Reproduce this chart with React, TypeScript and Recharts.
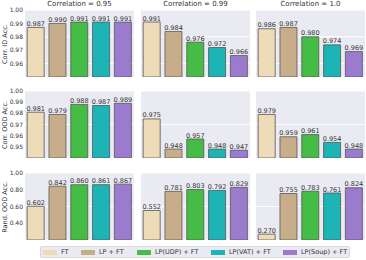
import { BarChart, Bar, XAxis, YAxis, CartesianGrid, Cell, LabelList } from "recharts";

const methods = ["FT", "LP + FT", "LP(UDP) + FT", "LP(VAT) + FT", "LP(Soup) + FT"];
const methodColors = ["#EEDBB8", "#C8AD8A", "#45BC46", "#1CB4B4", "#9A7BCE"];
const correlations = ["0.95", "0.99", "1.0"];
const rowLabels = ["Corr. ID Acc.", "Corr. OOD Acc.", "Rand. OOD Acc."];

// Corr. ID accuracy per correlation
const corrId095 = [0.987, 0.99, 0.991, 0.991, 0.991];
const corrId099 = [0.991, 0.984, 0.976, 0.972, 0.966];
const corrId10 = [0.986, 0.987, 0.98, 0.974, 0.969];

// Corr. OOD accuracy
const corrOod095 = [0.981, 0.979, 0.988, 0.987, 0.989];
const corrOod099 = [0.975, 0.948, 0.957, 0.948, 0.947];
const corrOod10 = [0.979, 0.959, 0.961, 0.954, 0.948];

// Rand. OOD accuracy
const randOod095 = [0.602, 0.842, 0.86, 0.861, 0.867];
const randOod099 = [0.552, 0.781, 0.803, 0.792, 0.829];
const randOod10 = [0.27, 0.755, 0.783, 0.761, 0.824];

const idTicks = [0.95, 0.96, 0.97, 0.98, 0.99, 1.0];
const oodTicks = [0.94, 0.95, 0.96, 0.97, 0.98, 0.99, 1.0];
const randTicks = [0.2, 0.4, 0.6, 0.8, 1.0];

const rows = [
    { label: rowLabels[0], ticks: idTicks, panels: [corrId095, corrId099, corrId10] },
    { label: rowLabels[1], ticks: oodTicks, panels: [corrOod095, corrOod099, corrOod10] },
    { label: rowLabels[2], ticks: randTicks, panels: [randOod095, randOod099, randOod10] },
];

const colLeft = [25, 141, 256];
const rowTop = [10, 91, 173];
const plotW = 109;
const plotH = 67;
const yAxisW = 24;
const topPad = 10;
const textColor = "#333";
const legendX = [43, 81, 137, 211, 283];

function ValueLabel(props: any) {
    const { x, y, width, value } = props;
    return (
        <text
            x={Number(x) + Number(width) / 2}
            y={Number(y) - 1.5}
            textAnchor="middle"
            fontSize={6.5}
            fill={textColor}
        >
            {Number(value).toFixed(3)}
        </text>
    );
}

interface PanelProps {
    values: number[];
    ticks: number[];
    showY: boolean;
    left: number;
    top: number;
}

function Panel({ values, ticks, showY, left, top }: PanelProps) {
    const data = methods.map((m, i) => ({ method: m, value: values[i] }));
    const w = plotW + (showY ? yAxisW : 0);
    return (
        <div style={{ position: "absolute", left: left - (showY ? yAxisW : 0), top: top - topPad }}>
            <BarChart
                width={w}
                height={plotH + topPad}
                data={data}
                margin={{ top: topPad, right: 0, bottom: 0, left: 0 }}
                barCategoryGap="10%"
            >
                <CartesianGrid vertical={false} stroke="#ffffff" fill="#EAEAF2" />
                <XAxis dataKey="method" hide />
                <YAxis
                    hide={!showY}
                    width={yAxisW}
                    domain={[ticks[0], ticks[ticks.length - 1]]}
                    ticks={ticks}
                    tickFormatter={(v: number) => v.toFixed(2)}
                    tick={{ fill: textColor, fontSize: 6 }}
                    tickLine={false}
                    axisLine={false}
                    tickSize={0}
                    tickMargin={2}
                />
                <Bar dataKey="value" stroke="#555" strokeWidth={0.8} isAnimationActive={false}>
                    {data.map((d, i) => (
                        <Cell key={d.method} fill={methodColors[i]} />
                    ))}
                    <LabelList dataKey="value" content={<ValueLabel />} />
                </Bar>
            </BarChart>
        </div>
    );
}

export default function App() {
    return (
        <div
            style={{
                position: "absolute",
                left: 0,
                top: 0,
                width: 366,
                height: 260,
                background: "#fff",
                fontFamily: "DejaVu Sans",
                color: textColor,
            }}
        >
            {correlations.map((c, i) => (
                <div
                    key={c}
                    style={{
                        position: "absolute",
                        left: colLeft[i],
                        width: plotW,
                        top: 0,
                        fontSize: 7,
                        textAlign: "center",
                        lineHeight: "9px",
                    }}
                >
                    Correlation = {c}
                </div>
            ))}
            {rows.map((r, ri) => (
                <div key={r.label}>
                    <div
                        style={{
                            position: "absolute",
                            left: 5 - 40,
                            top: rowTop[ri] + plotH / 2 - 4,
                            width: 80,
                            height: 8,
                            lineHeight: "8px",
                            fontSize: 6.5,
                            textAlign: "center",
                            transform: "rotate(-90deg)",
                            whiteSpace: "nowrap",
                        }}
                    >
                        {r.label}
                    </div>
                    {r.panels.map((vals, ci) => (
                        <Panel
                            key={ci}
                            values={vals}
                            ticks={r.ticks}
                            showY={ci === 0}
                            left={colLeft[ci]}
                            top={rowTop[ri]}
                        />
                    ))}
                </div>
            ))}
            <div
                style={{
                    position: "absolute",
                    left: 40,
                    top: 246,
                    width: 310,
                    height: 12,
                    boxSizing: "border-box",
                    background: "#EAEAF2",
                    border: "1px solid #d8d8e0",
                    borderRadius: 2,
                    fontSize: 6.5,
                }}
            >
                {methods.map((m, i) => (
                    <div
                        key={m}
                        style={{
                            position: "absolute",
                            left: legendX[i] - 41,
                            top: 0,
                            height: 10,
                            display: "flex",
                            alignItems: "center",
                            whiteSpace: "nowrap",
                        }}
                    >
                        <span
                            style={{
                                display: "inline-block",
                                width: 14,
                                height: 5,
                                background: methodColors[i],
                                marginRight: 4,
                            }}
                        />
                        <span>{m}</span>
                    </div>
                ))}
            </div>
        </div>
    );
}
